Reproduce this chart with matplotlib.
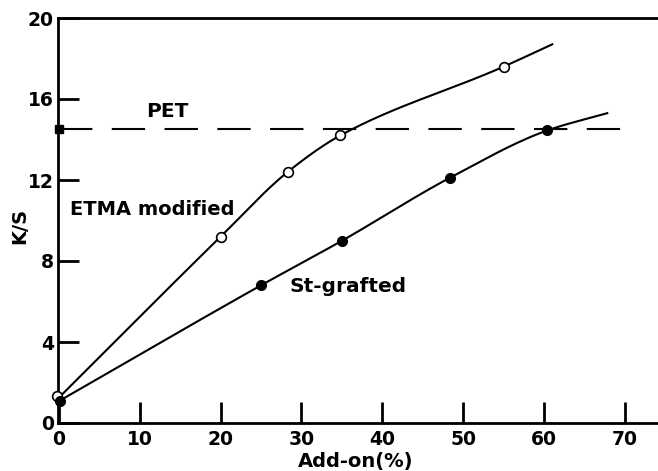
import numpy as np
import matplotlib
matplotlib.use("Agg")
import matplotlib.pyplot as plt

plt.rcParams['font.family'] = ['DejaVu Sans']
plt.rcParams['lines.scale_dashes'] = False

# Data
etma_x = [-0.2, 20.0, 28.3, 34.8, 55.0]
etma_y = [1.35, 9.2, 12.4, 14.2, 17.6]
etma_curve_end = (61.0, 18.7)   # where the drawn curve stops

st_x = [0.1, 25.0, 35.0, 48.3, 60.4]
st_y = [1.1, 6.8, 9.0, 12.1, 14.45]
st_curve_end = (67.8, 15.3)

pet_level = 14.5
pet_end = 71.0

x_ticks = [0, 10, 20, 30, 40, 50, 60, 70]
y_ticks = [0, 4, 8, 12, 16, 20]


def pchip(x, y, xs):
    x = np.asarray(x, float); y = np.asarray(y, float)
    h = np.diff(x); d = np.diff(y) / h
    n = len(x); m = np.zeros(n)
    m[0] = d[0]; m[-1] = d[-1]
    for k in range(1, n - 1):
        if d[k - 1] * d[k] > 0:
            w1 = 2 * h[k] + h[k - 1]; w2 = h[k] + 2 * h[k - 1]
            m[k] = (w1 + w2) / (w1 / d[k - 1] + w2 / d[k])
    idx = np.clip(np.searchsorted(x, xs) - 1, 0, n - 2)
    t = (xs - x[idx]) / h[idx]
    h00 = 2 * t**3 - 3 * t**2 + 1; h10 = t**3 - 2 * t**2 + t
    h01 = -2 * t**3 + 3 * t**2; h11 = t**3 - t**2
    return (h00 * y[idx] + h10 * h[idx] * m[idx] + h01 * y[idx + 1]
            + h11 * h[idx] * m[idx + 1])


fig = plt.figure(figsize=(6.58, 4.71), dpi=100)
ax = fig.add_axes([58 / 658, 48 / 471, 600 / 658, 405 / 471])
ax.set_xlim(-0.1, 74.07)
ax.set_ylim(0, 20)

# PET dashed reference
ax.plot([0, pet_end], [pet_level, pet_level], color='black', lw=1.5,
        dashes=(24, 14), zorder=2)
ax.plot([0], [pet_level], marker='s', color='black', ms=6, clip_on=False, zorder=5)

# ETMA modified curve
cx = [0.0] + etma_x[1:] + [etma_curve_end[0]]
cy = [1.25] + etma_y[1:] + [etma_curve_end[1]]
xs = np.linspace(cx[0], cx[-1], 400)
ax.plot(xs, pchip(cx, cy, xs), color='black', lw=1.5, zorder=3)
ax.plot(etma_x, etma_y, 'o', mfc='white', mec='black', mew=1.2, ms=7,
        clip_on=False, zorder=4)

# St-grafted curve
cx = st_x + [st_curve_end[0]]
cy = st_y + [st_curve_end[1]]
xs = np.linspace(cx[0], cx[-1], 400)
ax.plot(xs, pchip(cx, cy, xs), color='black', lw=1.5, zorder=3)
ax.plot(st_x, st_y, 'o', color='black', ms=7, clip_on=False, zorder=4)

# Annotations
ax.text(13.4, 15.11, 'PET', fontsize=14.5, fontweight='bold', ha='center', va='baseline')
ax.text(11.6, 10.27, 'ETMA modified', fontsize=14, fontweight='bold', ha='center', va='baseline')
ax.text(35.75, 6.47, 'St-grafted', fontsize=14.5, fontweight='bold', ha='center', va='baseline')

# Axes styling
ax.spines['right'].set_visible(False)
for s in ['left', 'top', 'bottom']:
    ax.spines[s].set_linewidth(2.0)
ax.set_xticks(x_ticks)
ax.set_yticks(y_ticks)
ax.tick_params(direction='in', length=15, width=2.0, labelsize=13.5, pad=3)
ax.tick_params(axis='x', pad=5)
for lab in ax.get_xticklabels() + ax.get_yticklabels():
    lab.set_fontweight('bold')
ax.set_xlabel('Add-on(%)', fontsize=14, fontweight='bold', va='center')
ax.set_ylabel('K/S', fontsize=14, fontweight='bold', va='center')
ax.xaxis.set_label_coords(0.496, -0.096)
ax.yaxis.set_label_coords(-0.063, 0.486)

fig.savefig('out.png', dpi=100)
